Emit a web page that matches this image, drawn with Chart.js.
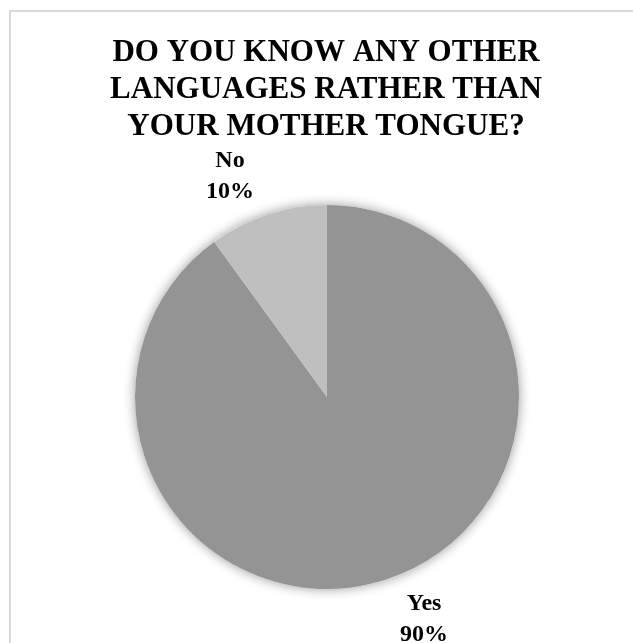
<!DOCTYPE html>
<html>
<head>
<meta charset="utf-8">
<script src="https://cdn.jsdelivr.net/npm/chart.js@4/dist/chart.umd.min.js"></script>
<style>
    html, body { margin: 0; padding: 0; background: #fff; }
    #wrap { position: relative; width: 633px; height: 643px; }
    #frame {
        position: absolute; left: 9px; top: 10px; right: 0; bottom: 0;
        border-left: 2px solid #d9d9d9; border-top: 2px solid #d9d9d9;
    }
    canvas { position: absolute; left: 0; top: 0; }
</style>
</head>
<body>
<div id="wrap">
    <div id="frame"></div>
    <canvas id="chart" width="633" height="643"></canvas>
</div>
<script>
const titleLines = ["DO YOU KNOW ANY OTHER", "LANGUAGES RATHER THAN", "YOUR MOTHER TONGUE?"];
const categories = ["Yes", "No"];
const shares = [90, 10];
const sliceColors = ["#949494", "#bfbfbf"];

const serif = "'Liberation Serif', 'Times New Roman', serif";

// soft shadow behind the whole pie, drawn once so slices stay clean
const pieShadow = {
    id: "pieShadow",
    beforeDatasetsDraw(chart) {
        const arc = chart.getDatasetMeta(0).data[0];
        if (!arc) return;
        const ctx = chart.ctx;
        ctx.save();
        ctx.shadowColor = "rgba(0,0,0,0.4)";
        ctx.shadowBlur = 12;
        ctx.fillStyle = "#fff";
        ctx.beginPath();
        ctx.arc(arc.x, arc.y, arc.outerRadius, 0, Math.PI * 2);
        ctx.fill();
        ctx.restore();
    }
};

// title + outside-end data labels
const textLayer = {
    id: "textLayer",
    afterDraw(chart) {
        const ctx = chart.ctx;
        ctx.save();
        ctx.fillStyle = "#000";
        ctx.textAlign = "center";
        ctx.textBaseline = "middle";
        ctx.font = "bold 31px " + serif;
        titleLines.forEach((line, i) => ctx.fillText(line, 326, 53 + i * 37));

        ctx.font = "bold 24px " + serif;
        const total = shares.reduce((a, b) => a + b, 0);
        chart.getDatasetMeta(0).data.forEach((arc, i) => {
            const mid = (arc.startAngle + arc.endAngle) / 2;
            const cx = Math.cos(mid), cy = Math.sin(mid);
            const ax = arc.x + cx * (arc.outerRadius + 12);
            const ay = arc.y + cy * (arc.outerRadius + 12);
            const pct = Math.round(shares[i] / total * 100) + "%";
            const w = Math.max(ctx.measureText(categories[i]).width, ctx.measureText(pct).width);
            const boxW = w + 20, boxH = 55;
            const left = cx < 0 ? ax - boxW : ax;
            const top = cy < 0 ? ay - boxH : ay;
            const mx = left + boxW / 2;
            ctx.fillText(categories[i], mx, top + 13);
            ctx.fillText(pct, mx, top + 44);
        });
        ctx.restore();
    }
};

const chart = new Chart(document.getElementById("chart"), {
    type: "pie",
    data: {
        labels: categories,
        datasets: [{
            data: shares,
            backgroundColor: sliceColors,
            borderWidth: 0
        }]
    },
    options: {
        responsive: false,
        animation: false,
        layout: { padding: { left: 135, right: 114, top: 205, bottom: 54 } },
        plugins: {
            legend: { display: false },
            title: { display: false },
            tooltip: { enabled: false }
        }
    },
    plugins: [pieShadow, textLayer]
});
</script>
</body>
</html>
